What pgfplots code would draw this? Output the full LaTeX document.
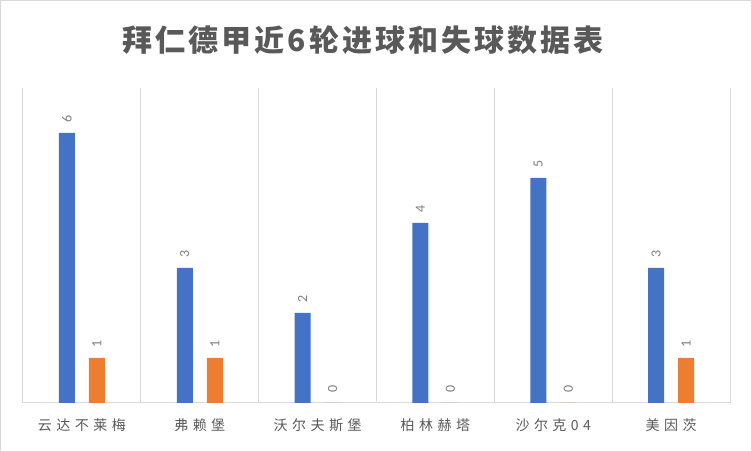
\documentclass[border=0pt]{standalone}
\usepackage{pgfplots}
\pgfplotsset{compat=1.18}
\usepackage{fontspec}
\setmainfont{Carlito}
\newfontfamily\cjk{Noto Sans CJK SC}
\newfontfamily\cjklabel[LetterSpace=32]{Noto Sans CJK SC}
\newfontfamily\cjktitle[LetterSpace=10]{Noto Sans CJK SC}

\definecolor{goals}{HTML}{4472C4}
\definecolor{against}{HTML}{ED7D31}
\definecolor{gridgray}{HTML}{D9D9D9}
\definecolor{textgray}{HTML}{595959}
\definecolor{labelgray}{HTML}{7F7F7F}

\begin{document}
\begin{tikzpicture}[x=1pt,y=1pt]
\useasboundingbox (0,0) rectangle (752,452);
\draw[gridgray, line width=1pt] (0.5,0.5) rectangle (751.5,451.5);
\node[text=textgray, font=\cjktitle\bfseries\fontsize{30}{34}\selectfont] at (363,412) {拜仁德甲近6轮进球和失球数据表};
\begin{axis}[
    at={(23pt,49pt)},
    anchor=south west,
    scale only axis,
    width=707pt,
    height=315pt,
    xmin=-0.5, xmax=5.5,
    ymin=0, ymax=7,
    ybar,
    bar width=16pt,
    axis y line=none,
    axis x line=bottom,
    x axis line style={gridgray, line width=1pt, -},
    xtick={0,1,2,3,4,5},
    xticklabels={云达不莱梅,弗赖堡,沃尔夫斯堡,柏林赫塔,沙尔克04,美因茨},
    major tick length=0pt,
    minor xtick={-0.5,0.5,1.5,2.5,3.5,4.5,5.5},
    minor tick length=0pt,
    xminorgrids=true,
    minor grid style={gridgray, line width=1pt},
    xticklabel style={font=\cjklabel\fontsize{14}{16}\selectfont, text=textgray, yshift=-12pt},
    /pgf/number format/assume math mode=true,
    nodes near coords,
    nodes near coords style={rotate=90, anchor=west, inner xsep=10pt, font=\fontsize{14}{16}\selectfont, text=labelgray},
    clip=false,
]
\addplot[fill=goals, draw=none, bar shift=-15pt] coordinates {
    (0,6) (1,3) (2,2) (3,4) (4,5) (5,3)
};
\addplot[fill=against, draw=none, bar shift=15pt] coordinates {
    (0,1) (1,1) (2,0) (3,0) (4,0) (5,1)
};
\end{axis}
\end{tikzpicture}
\end{document}
